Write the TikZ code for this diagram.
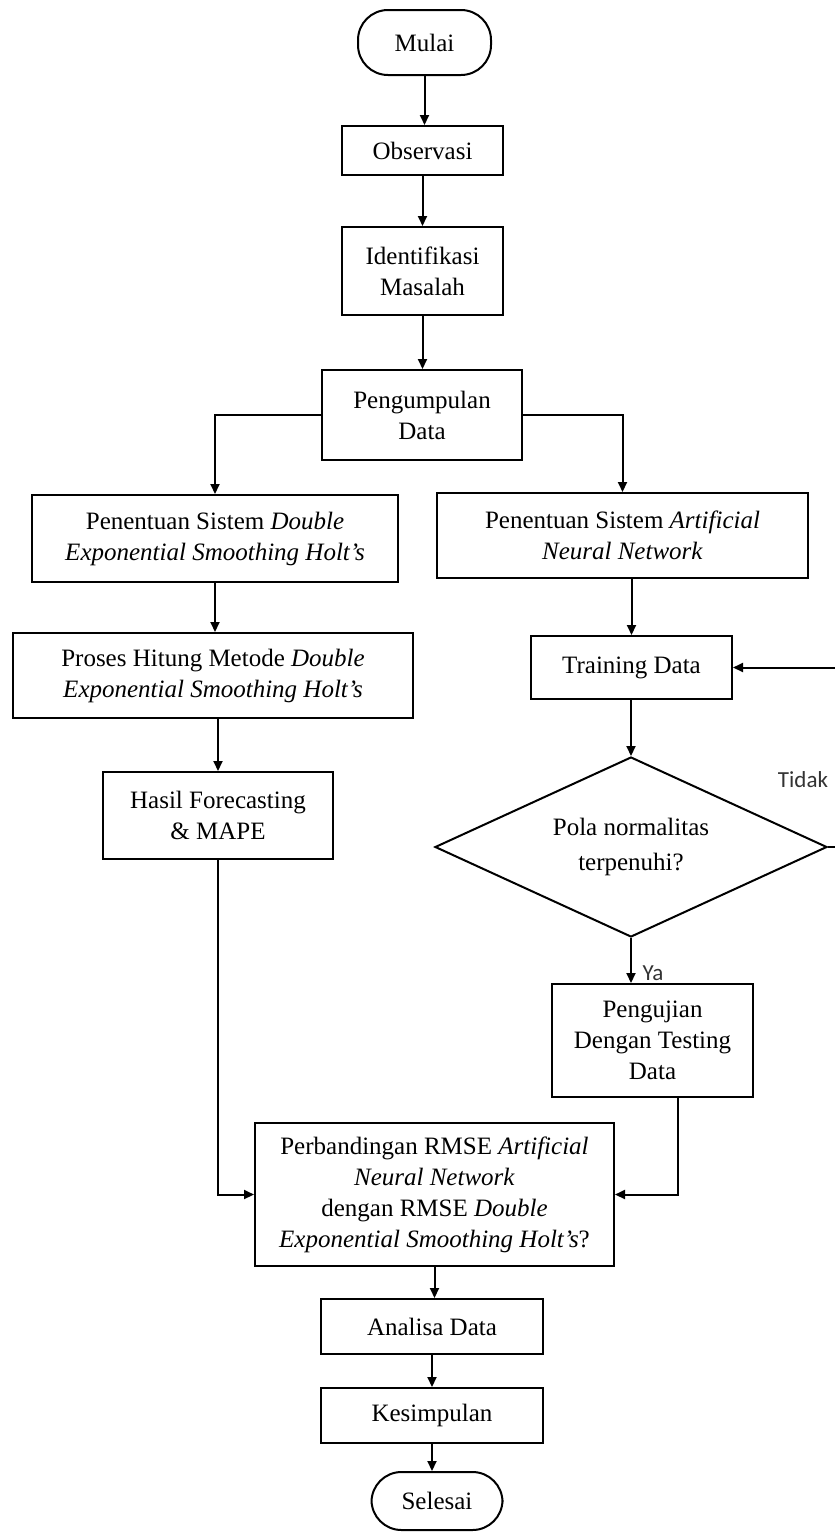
\documentclass[tikz,border=0pt]{standalone}
\usepackage{fontspec}
\setmainfont{Liberation Serif}
\newfontfamily\labelfont{Carlito}
\usetikzlibrary{arrows.meta,shapes.geometric,calc}
\begin{document}
\begin{tikzpicture}[x=1pt,y=-1pt,
  box/.style={draw, line width=2pt, rectangle, align=center, inner sep=0pt,
    font=\fontsize{25}{31}\selectfont},
  term/.style={box, rounded corners=30pt},
  arr/.style={line width=2pt, -{Triangle[length=10pt,width=9pt]}},
  ln/.style={line width=2pt},
  lbl/.style={font=\labelfont\fontsize{23}{26}\selectfont, inner sep=0pt, text=black!80}]
\useasboundingbox (0,0) rectangle (835,1534);

\node[term, minimum width=133pt, minimum height=65pt] (mulai) at (424.5,42.5) {Mulai};
\node[box, minimum width=161pt, minimum height=49pt] (obs) at (422.5,150.5) {Observasi};
\node[box, minimum width=161pt, minimum height=88pt] (ident) at (422.5,271) {Identifikasi\\Masalah};
\node[box, minimum width=200pt, minimum height=90pt] (peng) at (422,415) {Pengumpulan\\Data};
\node[box, minimum width=366pt, minimum height=87pt] (desl) at (215,538.5)
  {Penentuan Sistem \textit{Double}\\\textit{Exponential Smoothing Holt’s}};
\node[box, minimum width=371pt, minimum height=85pt] (annr) at (622.5,535.5)
  {Penentuan Sistem \textit{Artificial}\\\textit{Neural Network}};
\node[box, minimum width=400pt, minimum height=85pt] (proses) at (213,675.5)
  {Proses Hitung Metode \textit{Double}\\\textit{Exponential Smoothing Holt’s}};
\node[box, minimum width=201pt, minimum height=63pt] (train) at (631.5,667.5) {Training Data};
\node[box, minimum width=230pt, minimum height=87pt] (hasil) at (218,815.5) {Hasil Forecasting\\\&~MAPE};
\node[draw, diamond, line width=2pt, aspect=2.2, inner sep=0pt, align=center,
  font=\fontsize{25}{35}\selectfont, minimum width=392pt, minimum height=180pt] (dia) at (631,847)
  {Pola normalitas\\terpenuhi?};
\node[box, minimum width=201pt, minimum height=113pt] (uji) at (652.5,1040.5)
  {Pengujian\\Dengan Testing\\Data};
\node[box, minimum width=359pt, minimum height=143pt] (band) at (434.5,1194.5)
  {Perbandingan RMSE \textit{Artificial}\\\textit{Neural Network}\\dengan RMSE \textit{Double}\\\textit{Exponential Smoothing Holt’s}?};
\node[box, minimum width=222pt, minimum height=55pt] (analisa) at (432,1326.5) {Analisa Data};
\node[box, minimum width=222pt, minimum height=55pt] (kesimp) at (432,1415.5) {Kesimpulan};
\node[term, minimum width=131pt, minimum height=58pt] (selesai) at (437,1501) {Selesai};

\node[lbl] (tidak) at (803,780) {Tidak};
\node[lbl] (ya) at (653,973) {Ya};

\coordinate (loop) at (839,847);
\coordinate (ujiout) at (678,1097);

\draw[arr] (mulai.south) -- (mulai.south |- obs.north);
\draw[arr] (obs.south) -- (obs.south |- ident.north);
\draw[arr] (ident.south) -- (ident.south |- peng.north);
\draw[arr] (peng.west) -| (desl.north);
\draw[arr] (peng.east) -| (annr.north);
\draw[arr] (desl.south) -- (desl.south |- proses.north);
\draw[arr] (hasil.north |- proses.south) -- (hasil.north);
\draw[arr] (hasil.south) |- (band.west);
\draw[arr] (train.north |- annr.south) -- (train.north);
\draw[arr] (dia.north |- train.south) -- (dia.north);
\draw[arr] (dia.south) -- (dia.south |- uji.north);
\draw[ln] (dia.east) -- (loop);
\draw[arr] (loop) |- (train.east);
\draw[arr] (ujiout) |- (band.east);
\draw[arr] (band.south) -- (band.south |- analisa.north);
\draw[arr] (analisa.south) -- (analisa.south |- kesimp.north);
\draw[arr] (kesimp.south) -- (kesimp.south |- selesai.north);
\end{tikzpicture}
\end{document}
